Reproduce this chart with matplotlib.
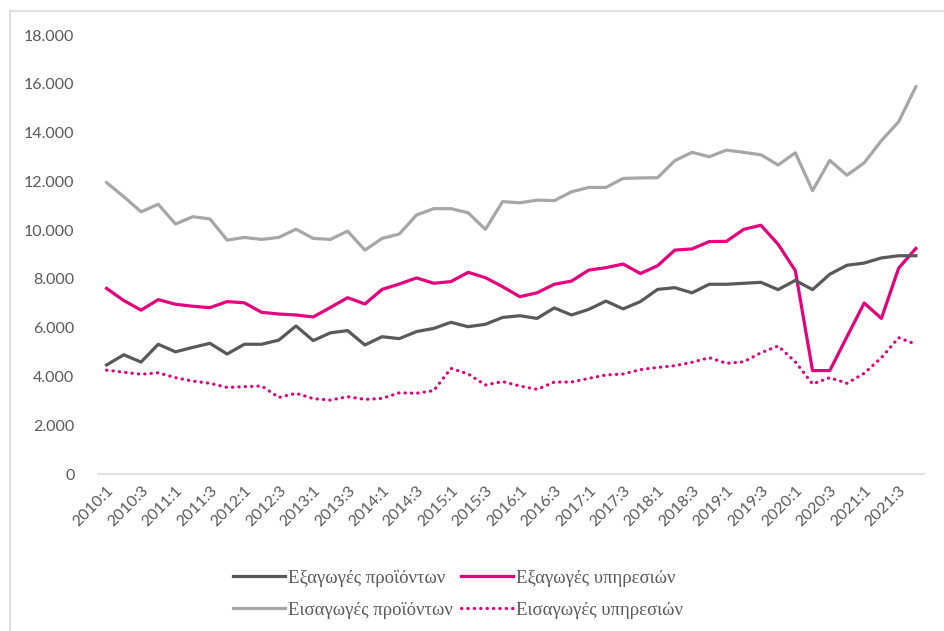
import matplotlib.pyplot as plt
import numpy as np
from matplotlib.lines import Line2D

# Quarters 2010:1 .. 2021:4
years = list(range(2010, 2022))
quarters = ['{}:{}'.format(y, q) for y in years for q in range(1, 5)]

# Values (millions)
exports_goods = [4470, 4890, 4590, 5320, 5010, 5190, 5360, 4920, 5320, 5320, 5490, 6070,
                 5470, 5790, 5880, 5290, 5630, 5550, 5840, 5970, 6220, 6040, 6140, 6420,
                 6490, 6380, 6810, 6520, 6750, 7090, 6770, 7070, 7570, 7640, 7430, 7780,
                 7780, 7820, 7860, 7560, 7940, 7560, 8190, 8560, 8650, 8860, 8950, 8950]
exports_services = [7610, 7110, 6720, 7150, 6960, 6880, 6820, 7070, 7020, 6630, 6560, 6520,
                    6440, 6830, 7230, 6970, 7570, 7790, 8040, 7820, 7890, 8270, 8050, 7680,
                    7270, 7430, 7780, 7910, 8360, 8460, 8610, 8220, 8540, 9180, 9230, 9530,
                    9540, 10030, 10200, 9420, 8340, 4240, 4240, 5630, 7010, 6380, 8440, 9250]
imports_goods = [11950, 11370, 10750, 11060, 10250, 10550, 10460, 9590, 9700, 9620, 9700, 10040,
                 9660, 9620, 9960, 9180, 9660, 9840, 10620, 10880, 10880, 10710, 10030, 11170,
                 11120, 11230, 11210, 11570, 11750, 11750, 12120, 12140, 12150, 12850, 13190, 13010,
                 13280, 13190, 13090, 12670, 13170, 11620, 12860, 12250, 12760, 13670, 14440, 15880]
imports_services = [4260, 4170, 4090, 4150, 3950, 3810, 3720, 3550, 3580, 3610, 3140, 3310,
                    3090, 3030, 3170, 3060, 3100, 3330, 3310, 3420, 4330, 4100, 3650, 3790,
                    3610, 3470, 3770, 3770, 3920, 4060, 4100, 4280, 4370, 4440, 4580, 4770,
                    4540, 4600, 4970, 5250, 4600, 3690, 3950, 3720, 4130, 4770, 5590, 5320]

labels = ['Εξαγωγές προϊόντων', 'Εξαγωγές υπηρεσιών',
          'Εισαγωγές προϊόντων', 'Εισαγωγές υπηρεσιών']

DARK = '#595959'
PINK = '#E6007E'
LIGHT = '#A6A6A6'
TEXT = '#595959'

plt.rcParams['font.family'] = ['Lato', 'DejaVu Sans']

fig = plt.figure(figsize=(9.44, 6.31), dpi=100)
ax = fig.add_axes([0.1038, 0.2488, 0.8755, 0.6957])

x = np.arange(len(quarters))
lw = 2.3
dots = (0, (0.1, 1.9))
ax.plot(x, imports_goods, color=LIGHT, lw=lw, solid_joinstyle='round')
ax.plot(x, exports_services, color=PINK, lw=lw, solid_joinstyle='round')
ax.plot(x, exports_goods, color=DARK, lw=lw, solid_joinstyle='round')
ax.plot(x, imports_services, color=PINK, lw=lw, linestyle=dots, dash_capstyle='round')

ax.set_xlim(-0.5, len(quarters) - 0.5)
ax.set_ylim(0, 18000)
ax.set_yticks(np.arange(0, 18001, 2000))
ax.yaxis.set_major_formatter(plt.FuncFormatter(
    lambda v, loc: '{:,}'.format(int(v)).replace(',', '.')))
ax.set_xticks(x[::2])
ax.set_xticklabels(quarters[::2], rotation=45, ha='right', rotation_mode='anchor')

for side in ['top', 'right', 'left']:
    ax.spines[side].set_visible(False)
ax.spines['bottom'].set_color('#D9D9D9')
ax.spines['bottom'].set_linewidth(1.2)
ax.tick_params(axis='both', length=0, colors=TEXT, labelsize=11.5)
ax.tick_params(axis='y', pad=17)
ax.tick_params(axis='x', pad=7)

handles = [Line2D([], [], color=DARK, lw=lw),
           Line2D([], [], color=LIGHT, lw=lw),
           Line2D([], [], color=PINK, lw=lw),
           Line2D([], [], color=PINK, lw=lw, linestyle=dots, dash_capstyle='round')]
leg_labels = [labels[0], labels[2], labels[1], labels[3]]
leg = fig.legend(handles, leg_labels, ncol=2, loc='center', bbox_to_anchor=(0.485, 0.058),
                 frameon=False, handlelength=2.8, columnspacing=0.4, labelspacing=0.8,
                 handletextpad=0.15,
                 prop={'family': ['Liberation Serif', 'DejaVu Serif'], 'size': 13.5})
for t in leg.get_texts():
    t.set_color(TEXT)

# chart frame (left and top edges visible)
fig.add_artist(Line2D([10 / 944, 10 / 944], [0, 1 - 11 / 631], color='#D9D9D9', lw=1.2,
                      transform=fig.transFigure))
fig.add_artist(Line2D([10 / 944, 1], [1 - 11 / 631, 1 - 11 / 631], color='#D9D9D9', lw=1.2,
                      transform=fig.transFigure))

plt.savefig('out.png', dpi=100)
